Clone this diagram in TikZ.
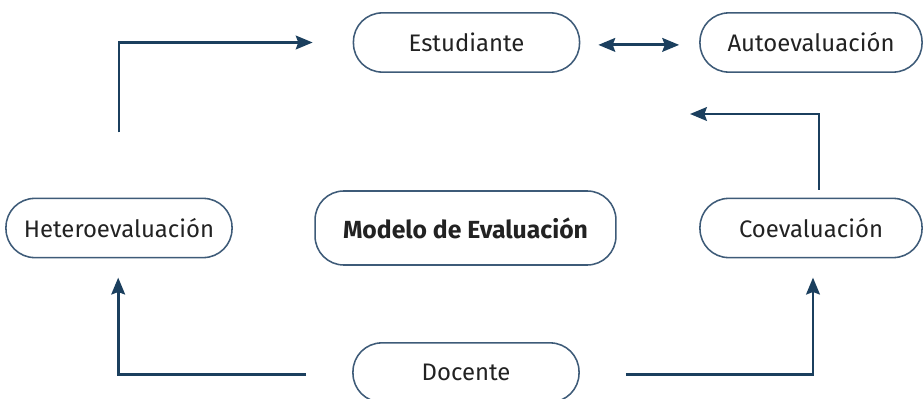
\documentclass[tikz,border=0pt]{standalone}
\usepackage{fontspec}
\setmainfont{Fira Sans}
\setsansfont{Fira Sans}
\usetikzlibrary{
    arrows.meta,
    positioning,
    calc
}
\definecolor{boxline}{HTML}{3E5B78}
\definecolor{flowline}{HTML}{1B3F5E}
\definecolor{textcol}{HTML}{222222}
\tikzset{
    % --- Rounded box for each actor / evaluation type ---
    actor/.style = {
        rectangle, draw=boxline, line width=1.1pt,
        rounded corners=0.72cm,
        minimum width=5.65cm, minimum height=1.48cm,
        font=\sffamily\fontsize{17}{20}\selectfont,
        text=textcol, align=center, inner sep=0pt
    },
    % --- Central box (model title) ---
    model/.style = {
        actor, minimum width=7.52cm, minimum height=1.85cm,
        font=\sffamily\bfseries\fontsize{17.6}{20}\selectfont
    },
    % --- Flow arrow ---
    flow/.style = {
        -{Stealth[length=0.42cm, width=0.34cm, inset=0.06cm]},
        line width=2.1pt, draw=flowline
    },
    % --- Double-headed flow arrow ---
    both flow/.style = {
        flow, {Stealth[length=0.42cm, width=0.34cm, inset=0.06cm]}-{Stealth[length=0.42cm, width=0.34cm, inset=0.06cm]}
    }
}

\begin{document}
\begin{tikzpicture}[x=0.025cm, y=-0.025cm]

\useasboundingbox (0,0) rectangle (923,399);

% ---------------------------------------------------------
% Nodes
% ---------------------------------------------------------
\node[model] (Modelo) at (465.5, 228) {Modelo de Evaluación};
\node[actor] (Estudiante) at (466.5, 42.5) {Estudiante};
\node[actor, minimum width=5.55cm] (Auto) at (811, 42.5) {Autoevaluación};
\node[actor] (Hetero) at (119, 228) {Heteroevaluación};
\node[actor, minimum width=5.55cm] (Coeval) at (811, 228) {Coevaluación};
\node[actor] (Docente) at (466, 372.5) {Docente};

% free end of the arrow coming from Coevaluación
\coordinate (AutoIn) at (690, 114);

% ---------------------------------------------------------
% Estudiante side
% ---------------------------------------------------------
\draw[flow, shorten <=1.63cm, shorten >=1cm] (Hetero.north) |- (Estudiante.west);
\draw[both flow, shorten <=0.45cm, shorten >=0.5cm]
    ([yshift=-0.06cm]Estudiante.east) -- ([yshift=-0.06cm]Auto.west);
\draw[flow, shorten <=0.2cm] ([xshift=0.2cm]Coeval.north) |- (AutoIn);

% ---------------------------------------------------------
% Docente side
% ---------------------------------------------------------
\draw[flow, shorten <=1.15cm, shorten >=0.48cm]
    ([yshift=-0.06cm]Docente.west) -| ([xshift=-0.02cm]Hetero.south);
\draw[flow, shorten <=1.15cm, shorten >=0.48cm]
    ([yshift=-0.06cm]Docente.east) -| ([xshift=0.05cm]Coeval.south);

\end{tikzpicture}
\end{document}
